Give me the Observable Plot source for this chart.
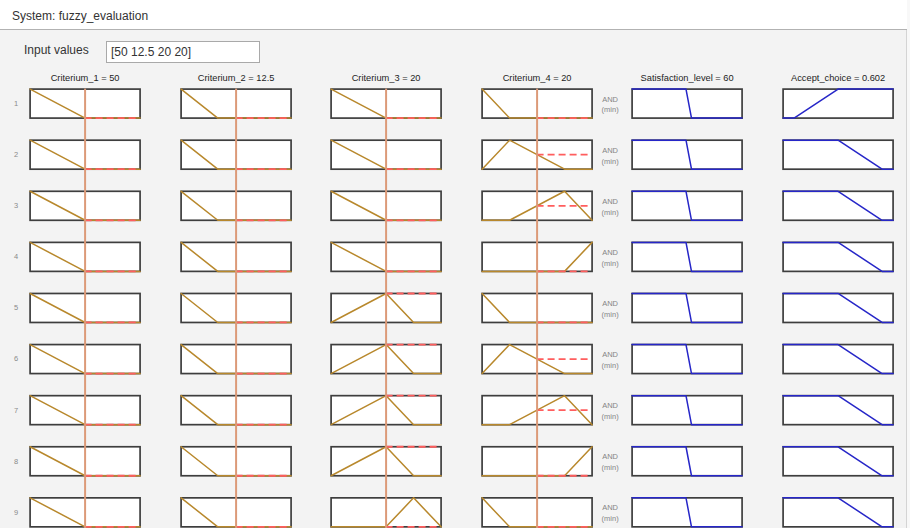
<!DOCTYPE html>
<html>
<head>
<meta charset="utf-8">
<script src="https://cdn.jsdelivr.net/npm/d3@7"></script>
<script src="https://cdn.jsdelivr.net/npm/@observablehq/plot@0.6"></script>
<style>
  html, body { margin:0; padding:0; width:910px; height:528px; overflow:hidden; background:#f3f3f3;
    font-family:"Liberation Sans", Arial, sans-serif; }
  #header { position:absolute; left:0; top:0; width:907px; height:29px; background:#ffffff; border-bottom:1px solid #b2b2b2; }
  #header span { position:absolute; left:12px; top:9px; font-size:12px; line-height:14px; color:#333; white-space:nowrap; }
  #vline { position:absolute; left:906px; top:30px; width:1px; height:498px; background:#d4d4d4; }
  #rightpad { position:absolute; left:907px; top:0; width:3px; height:528px; background:#f8f8f8; }
  #inlabel { position:absolute; left:24px; top:43px; font-size:12px; line-height:14px; color:#333; white-space:nowrap; }
  #inbox { position:absolute; left:106px; top:41px; width:154px; height:22px; box-sizing:border-box; background:#fff;
    border:1px solid #a9a9a9; font-size:12px; line-height:14px; color:#333; padding:3px 0 0 4px; white-space:nowrap; }
  #charts { position:absolute; left:0; top:66px; width:910px; height:462px; }
  #charts svg { position:absolute; top:0; }
</style>
</head>
<body>
<div id="header"><span>System: fuzzy_evaluation</span></div>
<div id="vline"></div>
<div id="rightpad"></div>
<div id="inlabel">Input values</div>
<div id="inbox"></div>
<div id="charts"></div>
<script>
// ---------------- data ----------------
const systemName = "fuzzy_evaluation";
const rules = [1, 2, 3, 4, 5, 6, 7, 8, 9];

const inputNames  = ["Criterium_1", "Criterium_2", "Criterium_3", "Criterium_4"];
const inputValues = [50, 12.5, 20, 20];
const inputRanges = [[0, 100], [0, 25], [0, 40], [0, 40]];

const outputNames  = ["Satisfaction_level", "Accept_choice"];
const outputValues = [60, 0.602];
const outputRanges = [[0, 100], [0, 1]];

const andMethod = "AND\n(min)";

// trapezoid membership parameters [a, b, c, d] per rule (triangles have b = c)
const criterium1MF = [
  [0, 0, 0, 50], [0, 0, 0, 50], [0, 0, 0, 50], [0, 0, 0, 50], [0, 0, 0, 50],
  [0, 0, 0, 50], [0, 0, 0, 50], [0, 0, 0, 50], [0, 0, 0, 50]
];
const criterium2MF = [
  [0, 0, 0, 8.33], [0, 0, 0, 8.33], [0, 0, 0, 8.33], [0, 0, 0, 8.33], [0, 0, 0, 8.33],
  [0, 0, 0, 8.33], [0, 0, 0, 8.33], [0, 0, 0, 8.33], [0, 0, 0, 8.33]
];
const criterium3MF = [
  [0, 0, 0, 20], [0, 0, 0, 20], [0, 0, 0, 20], [0, 0, 0, 20],
  [0, 20, 20, 30], [0, 20, 20, 30], [0, 20, 20, 30], [0, 20, 20, 30],
  [20, 30, 30, 40]
];
const criterium4MF = [
  [0, 0, 0, 10], [0, 10, 10, 30], [10, 30, 30, 40], [30, 40, 40, 40],
  [0, 0, 0, 10], [0, 10, 10, 30], [10, 30, 30, 40], [30, 40, 40, 40],
  [0, 0, 0, 10]
];
const satisfactionMF = [
  [0, 0, 49, 54], [0, 0, 49, 54], [0, 0, 49, 54], [0, 0, 49, 54], [0, 0, 49, 54],
  [0, 0, 49, 54], [0, 0, 49, 54], [0, 0, 49, 54], [0, 0, 49, 54]
];
const acceptMF = [
  [0.1, 0.5, 1, 1], [0, 0, 0.5, 0.9], [0, 0, 0.5, 0.9], [0, 0, 0.5, 0.9], [0, 0, 0.5, 0.9],
  [0, 0, 0.5, 0.9], [0, 0, 0.5, 0.9], [0, 0, 0.5, 0.9], [0, 0, 0.5, 0.9]
];

// ---------------- helpers ----------------
document.getElementById("header").querySelector("span").textContent = "System: " + systemName;
document.getElementById("inbox").textContent = "[" + inputValues.join(" ") + "]";

function trap([a, b, c, d], v) {
  if (v < a || v > d) return 0;
  if (v >= b && v <= c) return 1;
  if (v < b) return (v - a) / (b - a);
  return (d - v) / (d - c);
}
function vertices(p, [lo, hi]) {
  const xs = Array.from(new Set([lo, ...p, hi])).filter(x => x >= lo && x <= hi).sort((u, v) => u - v);
  return xs.map(x => [x, trap(p, x)]);
}

const columns = [
  {name: inputNames[0], value: inputValues[0], range: inputRanges[0], mf: criterium1MF, input: true},
  {name: inputNames[1], value: inputValues[1], range: inputRanges[1], mf: criterium2MF, input: true},
  {name: inputNames[2], value: inputValues[2], range: inputRanges[2], mf: criterium3MF, input: true},
  {name: inputNames[3], value: inputValues[3], range: inputRanges[3], mf: criterium4MF, input: true},
  {name: outputNames[0], value: outputValues[0], range: outputRanges[0], mf: satisfactionMF, input: false},
  {name: outputNames[1], value: outputValues[1], range: outputRanges[1], mf: acceptMF, input: false}
];

// ---------------- layout ----------------
const step = 150.53, mLeft = 29.6, boxW = 110;
const H = 462, mTop = 22.6, rowStep = 51.1, pad = 0.4325;
const mBottom = H - mTop - rowStep * (rules.length - pad);
const container = document.getElementById("charts");

columns.forEach((col, i) => {
  const pts = rules.flatMap((r, k) => vertices(col.mf[k], col.range).map(([x, y]) => ({rule: r, x, y})));
  const marks = [
    Plot.frame({fill: "white", stroke: "#3e3e3e", strokeWidth: 1.7}),
    Plot.line(pts, {x: "x", y: "y", z: "rule", fy: "rule",
      stroke: col.input ? "#b8882c" : "#2626c8", strokeWidth: 1.5})
  ];
  if (col.input) {
    const mu = rules.map((r, k) => ({rule: r, mu: trap(col.mf[k], col.value)}));
    marks.push(Plot.ruleY(mu, {fy: "rule", y: "mu", x1: col.value, x2: col.range[1],
      stroke: "#ff5e5e", strokeWidth: 1.8, strokeDasharray: "7,4"}));
    marks.push(Plot.ruleX([col.value], {x: d => d, stroke: "#dc9a78", strokeWidth: 2, insetBottom: -22.5}));
  }
  marks.push(Plot.text([{rule: rules[0], t: `${col.name} = ${col.value}`}],
    {fy: "rule", text: "t", frameAnchor: "top", lineAnchor: "middle", dy: -11, fontSize: 9.3, fill: "#1e1e1e"}));
  if (i === 0) {
    marks.push(Plot.text(rules, {fy: d => d, text: d => String(d), frameAnchor: "left", dx: -12,
      textAnchor: "end", fontSize: 7.5, fill: "#8a8a8a"}));
  }
  if (i === 4) {
    marks.push(Plot.text(rules, {fy: d => d, text: () => andMethod, frameAnchor: "left", dx: -22,
      textAnchor: "middle", fontSize: 7.5, lineHeight: 1.44, fill: "#858585"}));
  }
  const svg = Plot.plot({
    width: step, height: H,
    marginLeft: mLeft, marginRight: step - mLeft - boxW, marginTop: mTop, marginBottom: mBottom,
    x: {domain: col.range, axis: null},
    y: {domain: [0, 1], axis: null},
    fy: {domain: rules, axis: null, paddingInner: pad, paddingOuter: 0, round: false},
    style: {background: "transparent", overflow: "visible", fontFamily: "Liberation Sans, Arial, sans-serif"},
    marks
  });
  svg.style.left = (i * step) + "px";
  container.appendChild(svg);
});
</script>
</body>
</html>
